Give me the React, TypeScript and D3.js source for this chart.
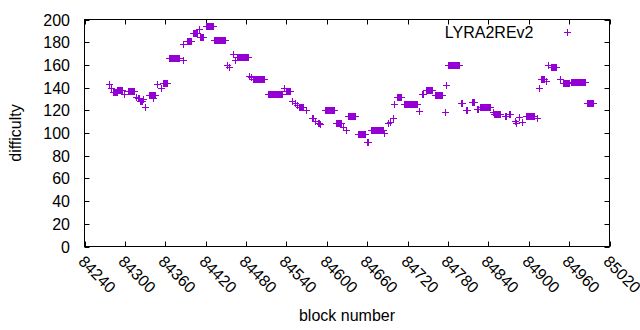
import * as React from "react";
import * as d3 from "d3";

// runs of blocks that share one difficulty value (start block, end block, difficulty)
const runStart = [
  84277, 84279, 84283, 84289, 84299, 84304, 84316, 84319, 84323, 84327, 84330,
  84336, 84342, 84348, 84353, 84356, 84365, 84386, 84387, 84392, 84401, 84410,
  84412, 84420, 84433, 84452, 84454, 84460, 84464, 84466, 84484, 84487, 84490,
  84512, 84537, 84539, 84548, 84552, 84556, 84558, 84569, 84578, 84583, 84587,
  84590, 84597, 84613, 84624, 84628, 84631, 84646, 84660, 84665, 84685, 84691,
  84694, 84698, 84700, 84704, 84715, 84737, 84742, 84748, 84760, 84775, 84777,
  84780, 84800, 84807, 84816, 84823, 84827, 84847, 84849, 84865, 84871, 84880,
  84881, 84885, 84890, 84896, 84912, 84915, 84918, 84925, 84929, 84933, 84946,
  84951, 84963, 84986,
];
const runEnd = [
  84277, 84280, 84288, 84296, 84299, 84313, 84317, 84321, 84325, 84327, 84330,
  84344, 84342, 84348, 84353, 84362, 84381, 84386, 84387, 84398, 84407, 84410,
  84416, 84431, 84449, 84452, 84455, 84460, 84464, 84483, 84484, 84487, 84507,
  84533, 84537, 84545, 84549, 84553, 84556, 84564, 84569, 84579, 84583, 84588,
  84590, 84611, 84621, 84624, 84628, 84642, 84657, 84661, 84683, 84685, 84691,
  84694, 84698, 84700, 84710, 84734, 84737, 84743, 84756, 84771, 84775, 84777,
  84797, 84801, 84808, 84818, 84824, 84842, 84847, 84857, 84866, 84872, 84880,
  84881, 84886, 84890, 84908, 84912, 84915, 84923, 84925, 84929, 84940, 84947,
  84960, 84983, 84995,
];
const runDifficulty = [
  143, 140, 136, 138, 134, 137, 132, 130.5, 128, 130, 123,
  133.5, 131, 143.5, 139.5, 144, 166, 164, 178, 181, 188.5, 192,
  184.5, 194, 182, 160, 158, 170, 164.5, 167, 150, 149, 147.5,
  134, 139.5, 137, 128.5, 126.5, 124.5, 123, 120, 113, 111, 108.5,
  107.5, 120, 108.5, 105.5, 102.5, 115, 99.5, 92, 102.5, 100, 108.5,
  110, 113, 125.5, 131.5, 125.5, 119, 134, 138, 133.5, 118.5, 142,
  159.5, 126, 120, 127, 121.5, 122.5, 118.5, 116.5, 115, 117, 111,
  108.5, 114, 109.5, 115, 113, 139.5, 148, 146, 160, 158, 148,
  144, 145, 126,
];

const xTickValues = [
  84240, 84300, 84360, 84420, 84480, 84540, 84600, 84660, 84720, 84780,
  84840, 84900, 84960, 85020,
];
const yTickValues = [0, 20, 40, 60, 80, 100, 120, 140, 160, 180, 200];
const seriesName = "LYRA2REv2";

const font = "'Liberation Sans', Arial, sans-serif";
const color = "#9400d3";

export default function App() {
  const width = 640;
  const height = 330;
  const left = 84.5;
  const right = 609.5;
  const top = 19.5;
  const bottom = 246.5;
  const tick = 5;

  const x = d3.scaleLinear().domain([84240, 85020]).range([left, right]);
  const y = d3.scaleLinear().domain([0, 200]).range([bottom, top]);

  const points: { block: number; value: number }[] = [];
  runStart.forEach((s, i) => {
    for (let b = s; b <= runEnd[i]; b++) {
      points.push({ block: b, value: runDifficulty[i] });
    }
  });

  const plus = (px: number, py: number) => {
    const cx = Math.round(px);
    const cy = Math.round(py);
    return `M${cx - 3},${cy + 0.5}H${cx + 4}M${cx + 0.5},${cy - 3}V${cy + 4}`;
  };

  const pointPath = points.map((p) => plus(x(p.block), y(p.value))).join("");

  return (
    <svg
      width={width}
      height={height}
      style={{ position: "fixed", left: 0, top: 0, background: "#fff" }}
      fontFamily={font}
      fontSize={16}
    >
      <rect width={width} height={height} fill="#fff" />
      {yTickValues.map((t) => {
        const ty = Math.round(y(t)) + 0.5;
        return (
          <g key={"y" + t}>
            <line x1={left} x2={left + tick} y1={ty} y2={ty} stroke="#000" />
            <line x1={right} x2={right - tick} y1={ty} y2={ty} stroke="#000" />
            <text x={70} y={ty} dy="0.35em" textAnchor="end" fill="#000">
              {t}
            </text>
          </g>
        );
      })}
      {xTickValues.map((t) => {
        const tx = Math.round(x(t)) + 0.5;
        return (
          <g key={"x" + t}>
            <line x1={tx} x2={tx} y1={bottom} y2={bottom - tick} stroke="#000" />
            <line x1={tx} x2={tx} y1={top} y2={top + tick} stroke="#000" />
            <text
              transform={`translate(${tx - 8},${bottom + 16}) rotate(45)`}
              textAnchor="start"
              fill="#000"
            >
              {t}
            </text>
          </g>
        );
      })}
      <rect
        x={left}
        y={top}
        width={right - left}
        height={bottom - top}
        fill="none"
        stroke="#000"
      />
      <path d={pointPath} stroke={color} strokeWidth={1} fill="none" shapeRendering="crispEdges" />
      <text x={533.5} y={37.5} textAnchor="end" fill="#000">
        {seriesName}
      </text>
      <path d={plus(567, 32)} stroke={color} strokeWidth={1} fill="none" shapeRendering="crispEdges" />
      <text
        transform={`translate(21,${(top + bottom) / 2}) rotate(-90)`}
        textAnchor="middle"
        fill="#000"
      >
        difficulty
      </text>
      <text x={(left + right) / 2} y={321} textAnchor="middle" fill="#000">
        block number
      </text>
    </svg>
  );
}
